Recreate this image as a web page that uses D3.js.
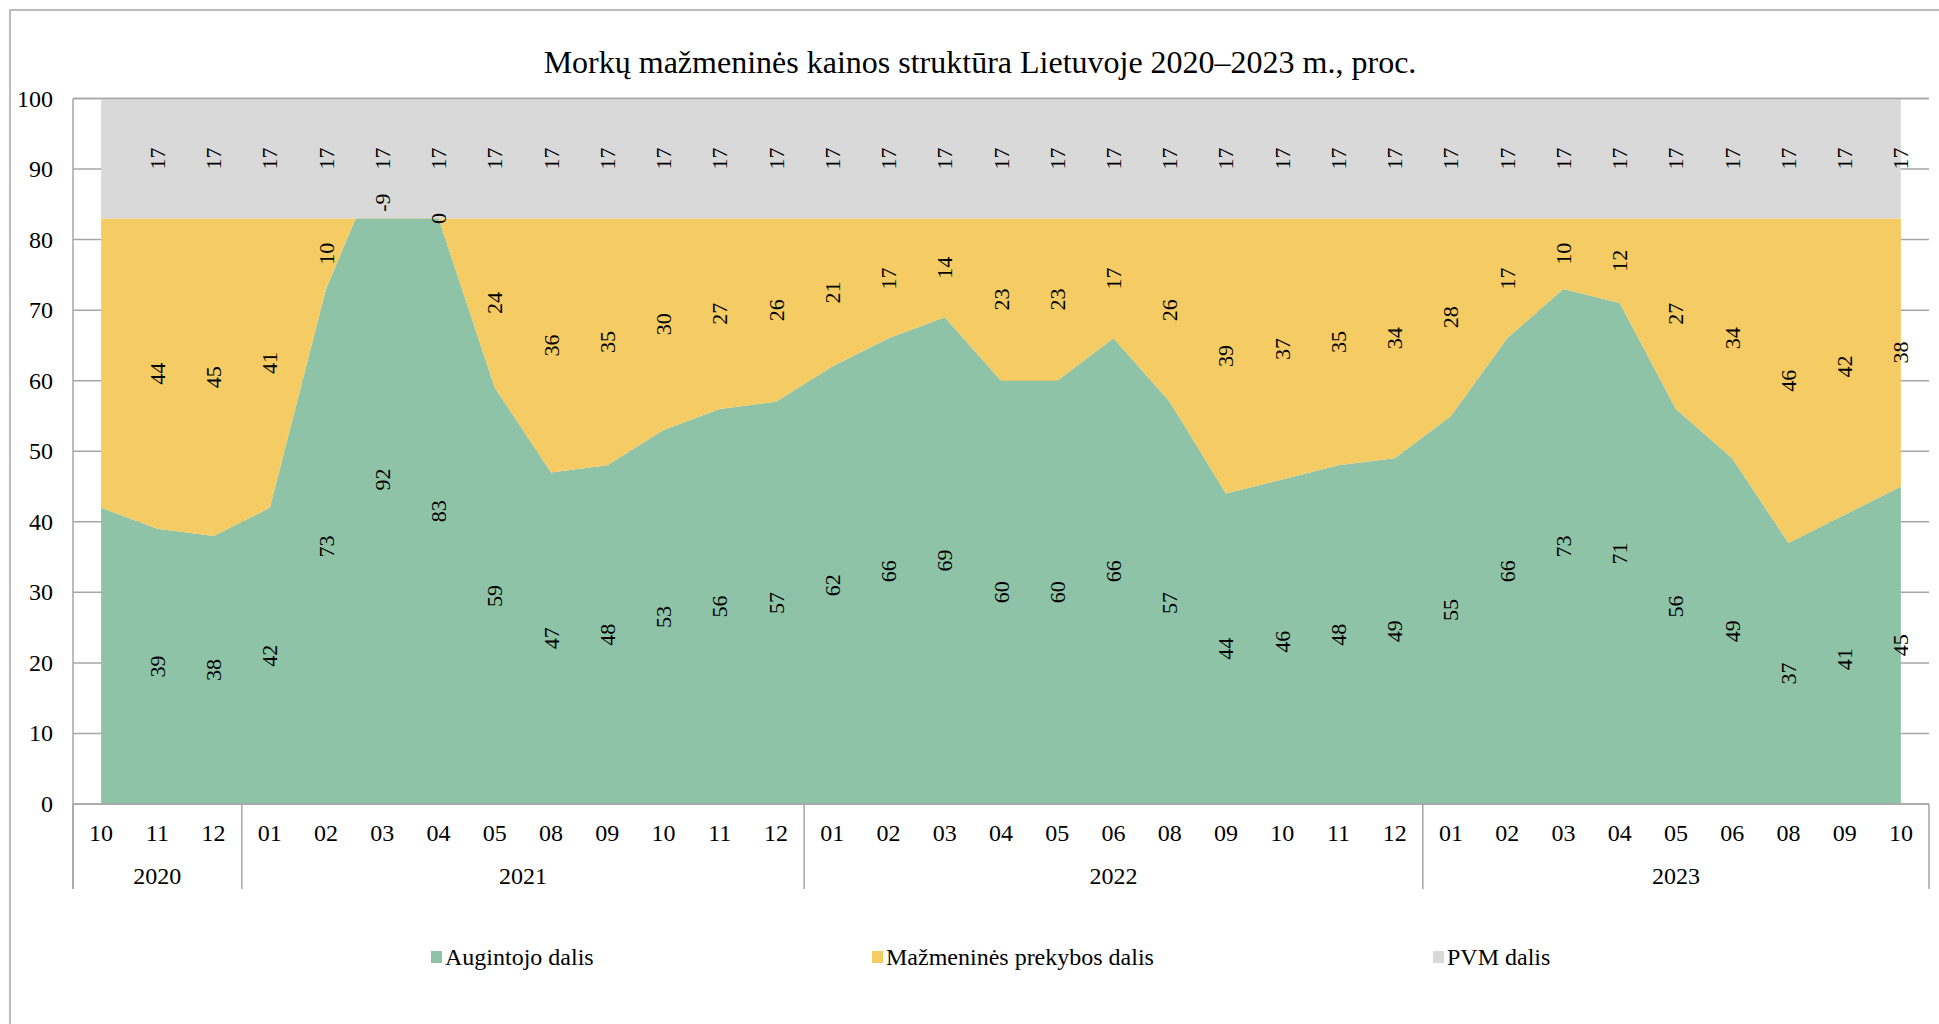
<!DOCTYPE html>
<html>
<head>
<meta charset="utf-8">
<script src="https://cdn.jsdelivr.net/npm/d3@7"></script>
<style>
  html, body { margin: 0; padding: 0; background: #fff; }
  svg { display: block; }
  text { font-family: "Liberation Serif", "Times New Roman", serif; fill: #000; }
</style>
</head>
<body>
<svg id="chart" width="1939" height="1024"></svg>
<script>
const title = "Morkų mažmeninės kainos struktūra Lietuvoje 2020–2023 m., proc.";
const years  = ["2020","2020","2020",
  "2021","2021","2021","2021","2021","2021","2021","2021","2021","2021",
  "2022","2022","2022","2022","2022","2022","2022","2022","2022","2022","2022",
  "2023","2023","2023","2023","2023","2023","2023","2023","2023"];
const months = ["10","11","12",
  "01","02","03","04","05","08","09","10","11","12",
  "01","02","03","04","05","06","08","09","10","11","12",
  "01","02","03","04","05","06","08","09","10"];
const augintojo = [42,39,38, 42,73,92,83,59,47,48,53,56,57, 62,66,69,60,60,66,57,44,46,48,49, 55,66,73,71,56,49,37,41,45];
const mazmenines = [41,44,45, 41,10,-9,0,24,36,35,30,27,26, 21,17,14,23,23,17,26,39,37,35,34, 28,17,10,12,27,34,46,42,38];
const pvm = [17,17,17, 17,17,17,17,17,17,17,17,17,17, 17,17,17,17,17,17,17,17,17,17,17, 17,17,17,17,17,17,17,17,17];
const seriesNames = ["Augintojo dalis", "Mažmeninės prekybos dalis", "PVM dalis"];
const yTicks = [0,10,20,30,40,50,60,70,80,90,100];

const colors = ["#8FC3A8", "#F5CB63", "#D9D9D9"];
const rows = months.map((m, i) => ({ i, a: augintojo[i], m: mazmenines[i], p: pvm[i] }));
const keys = ["a", "m", "p"];

const svg = d3.select("#chart");
const plotL = 73, plotR = 1929, plotT = 98.5, plotB = 804;

// outer border
svg.append("rect").attr("x", 10).attr("y", 10).attr("width", 1960).attr("height", 1040)
  .attr("fill", "none").attr("stroke", "#a6a6a6").attr("stroke-width", 1.5);

svg.append("text").attr("x", 980).attr("y", 62).attr("text-anchor", "middle")
  .attr("dominant-baseline", "central").style("font-size", "32px").text(title);

const x = d3.scaleBand().domain(d3.range(months.length)).range([plotL, plotR]).paddingInner(0).paddingOuter(0);
const cx = i => x(i) + x.bandwidth() / 2;
const y = d3.scaleLinear().domain([0, 100]).range([plotB, plotT]);

// gridlines
svg.append("g").selectAll("line").data(yTicks).join("line")
  .attr("x1", plotL).attr("x2", plotR).attr("y1", d => y(d)).attr("y2", d => y(d))
  .attr("stroke", "#a6a6a6").attr("stroke-width", 1.5);

const stack = d3.stack().keys(keys).offset(d3.stackOffsetNone).order(d3.stackOrderNone);
const stacked = stack(rows);

const area = d3.area().x((d, i) => cx(i)).y0(d => y(d[0])).y1(d => y(d[1]));
svg.append("g").selectAll("path").data(stacked).join("path")
  .attr("d", area).attr("fill", (d, k) => colors[k]);

// top gridline over gray edge
svg.append("line").attr("x1", plotL).attr("x2", plotR).attr("y1", y(100)).attr("y2", y(100))
  .attr("stroke", "#a6a6a6").attr("stroke-width", 1.5);

// axes lines
svg.append("line").attr("x1", plotL).attr("x2", plotR).attr("y1", y(0)).attr("y2", y(0))
  .attr("stroke", "#a6a6a6").attr("stroke-width", 1.5);
svg.append("line").attr("x1", plotL).attr("x2", plotL).attr("y1", y(100)).attr("y2", 889)
  .attr("stroke", "#a6a6a6").attr("stroke-width", 1.5);

// y tick labels
svg.append("g").selectAll("text").data(yTicks).join("text")
  .attr("x", 53).attr("y", d => y(d)).attr("text-anchor", "end")
  .attr("dominant-baseline", "central").style("font-size", "24px").text(d => d);

// month labels
svg.append("g").selectAll("text").data(months).join("text")
  .attr("x", (d, i) => cx(i)).attr("y", 833).attr("text-anchor", "middle")
  .attr("dominant-baseline", "central").style("font-size", "24px").text(d => d);

// year groups
const groups = [];
years.forEach((yr, i) => {
  if (!groups.length || groups[groups.length - 1].yr !== yr) groups.push({ yr, s: i, e: i });
  else groups[groups.length - 1].e = i;
});
svg.append("g").selectAll("text").data(groups).join("text")
  .attr("x", g => (x(g.s) + x(g.e) + x.bandwidth()) / 2).attr("y", 876)
  .attr("text-anchor", "middle").attr("dominant-baseline", "central")
  .style("font-size", "24px").text(g => g.yr);
const divs = groups.map(g => x(g.s)).concat([x(groups[groups.length - 1].e) + x.bandwidth()]);
svg.append("g").selectAll("line").data(divs).join("line")
  .attr("x1", d => d).attr("x2", d => d).attr("y1", y(0)).attr("y2", 889)
  .attr("stroke", "#a6a6a6").attr("stroke-width", 1.5);

// data labels (first category shows none in the reference)
const labelPos = d => {
  const v = d[1] - d[0];
  return v < 0 ? d[1] - v / 4 : (d[0] + d[1]) / 2;
};
stacked.forEach((s, k) => {
  svg.append("g").selectAll("text").data(s.filter((d, i) => i > 0)).join("text")
    .attr("transform", d => `translate(${cx(d.data.i)},${y(labelPos(d))}) rotate(-90)`)
    .attr("text-anchor", "middle").attr("dominant-baseline", "central")
    .style("font-size", "22px").text(d => d.data[keys[k]]);
});

// legend
const legendX = [431, 872, 1433];
const lg = svg.append("g").selectAll("g").data(seriesNames).join("g")
  .attr("transform", (d, i) => `translate(${legendX[i]},957)`);
lg.append("rect").attr("x", 0).attr("y", -6).attr("width", 11).attr("height", 12)
  .attr("fill", (d, i) => colors[i]);
lg.append("text").attr("x", 14).attr("y", 0).attr("dominant-baseline", "central")
  .style("font-size", "24px").text(d => d);
</script>
</body>
</html>
